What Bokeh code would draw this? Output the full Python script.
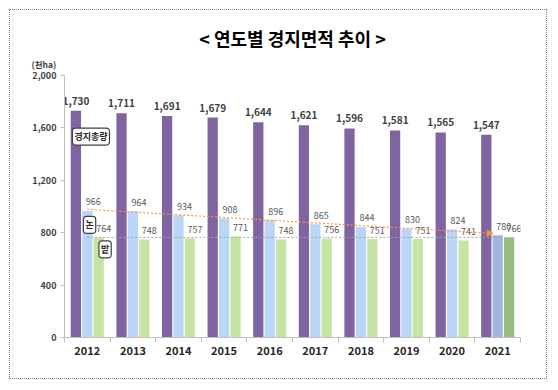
from bokeh.plotting import figure
from bokeh.models import (FactorRange, Range1d, LinearAxis, CategoricalAxis, FixedTicker,
                          NumeralTickFormatter, ColumnDataSource, Label, Arrow, NormalHead,
                          Title, CustomLabelingPolicy)
from bokeh.transform import dodge
from bokeh.core.properties import value
from bokeh.embed import file_html
from bokeh.resources import INLINE

# ---- data ----
years = ["2012", "2013", "2014", "2015", "2016", "2017", "2018", "2019", "2020", "2021"]
total = [1730, 1711, 1691, 1679, 1644, 1621, 1596, 1581, 1565, 1547]   # 경지총량
paddy = [966, 964, 934, 908, 896, 865, 844, 830, 824, 780]              # 논
field = [764, 748, 757, 771, 748, 756, 751, 751, 741, 766]              # 밭
y_ticks = [0, 400, 800, 1200, 1600, 2000]

FONT = "Noto Sans CJK KR"
purple = "#8064A2"
blue_c = ["#B9D6F6"] * 9 + ["#9FB5DA"]
green_c = ["#C6E4A3"] * 9 + ["#9CBC7F"]

src = ColumnDataSource(dict(
    year=years, total=total, paddy=paddy, field=field,
    total_lbl=[f"{v:,}" for v in total],
    paddy_lbl=[str(v) for v in paddy],
    field_lbl=[str(v) for v in field],
    bcol=blue_c, gcol=green_c,
))

p = figure(width=556, height=388, x_range=FactorRange(*years), y_range=Range1d(0, 2000),
           output_backend="svg", toolbar_location=None, x_axis_location=None,
           min_border_left=64, min_border_right=36, min_border_top=75, min_border_bottom=51,
           outline_line_color=None, background_fill_color="white", border_fill_color=None)
p.grid.visible = False
p.styles = {"outline": "1px dotted #808080", "outline-offset": "-10px", "background": "white"}

# title & unit
p.title.text = "< 연도별 경지면적 추이 >"
p.title.align = "center"
p.title.offset = -8
p.title.text_font = FONT
p.title.text_font_size = "18px"
p.title.text_font_style = "bold"
p.title.text_color = "#000000"
p.title.standoff = 0
p.add_layout(Title(text="(천ha)", align="left", offset=-33, standoff=11, text_font=FONT,
                   text_font_size="8.5px", text_font_style="bold", text_color="#404040"), "above")

# y axis
ya = p.yaxis[0]
ya.ticker = FixedTicker(ticks=y_ticks)
ya.formatter = NumeralTickFormatter(format="0,0")
ya.major_tick_out = 4
ya.major_tick_in = 0
ya.minor_tick_line_color = None
ya.axis_line_color = "#BFBFBF"
ya.major_tick_line_color = "#BFBFBF"
ya.major_label_text_font = FONT
ya.major_label_text_font_size = "9px"
ya.major_label_text_font_style = "bold"
ya.major_label_text_color = "#404040"
ya.major_label_standoff = 4

# x axis: boundary ticks + category labels
num_axis = LinearAxis(ticker=FixedTicker(ticks=list(range(len(years) + 1))),
                      major_tick_out=5, major_tick_in=0, minor_tick_line_color=None,
                      axis_line_color="#BFBFBF", major_tick_line_color="#BFBFBF",
                      major_label_policy=CustomLabelingPolicy(code="return new Set()"),
                      major_label_text_font_size="1px", major_label_standoff=0)
cat_axis = CategoricalAxis(major_tick_line_color=None, axis_line_color=None,
                           major_label_standoff=-7, major_label_text_font=FONT,
                           major_label_text_font_size="11px", major_label_text_font_style="bold",
                           major_label_text_color="#262626")
p.add_layout(num_axis, "below")
p.add_layout(cat_axis, "below")

# bars
p.vbar(x=dodge("year", -0.25, range=p.x_range), top="total", width=0.225, source=src,
       fill_color=purple, line_color=None)
p.vbar(x=dodge("year", 0.0, range=p.x_range), top="paddy", width=0.225, source=src,
       fill_color="bcol", line_color=None)
p.vbar(x=dodge("year", 0.25, range=p.x_range), top="field", width=0.225, source=src,
       fill_color="gcol", line_color=None)

# trend lines
p.segment(x0=[0.5], y0=[field[0]], x1=[len(years) - 0.6], y1=[field[0]],
          line_color="#A6A6A6", line_dash="2 2", line_width=1)
p.add_layout(Arrow(x_start=0.5, y_start=paddy[0] + 12, x_end=len(years) - 0.6, y_end=paddy[-1] + 14,
                   line_color="#F79646", line_dash="2 2", line_width=1.2,
                   end=NormalHead(size=6, fill_color="#F79646", line_color="#F79646")))

# value labels
p.text(x=dodge("year", -0.25, range=p.x_range), y="total", text="total_lbl", source=src,
       text_align="center", text_baseline="middle", y_offset=-10,
       text_font=value(FONT), text_font_size="10px", text_font_style="bold", text_color="#404040")
p.text(x=dodge("year", 0.0, range=p.x_range), y="paddy", text="paddy_lbl", source=src,
       text_align="center", text_baseline="middle", x_offset=6, y_offset=-9,
       text_font=value(FONT), text_font_size="9px", text_color="#595959")
p.text(x=dodge("year", 0.25, range=p.x_range), y="field", text="field_lbl", source=src,
       text_align="center", text_baseline="middle", x_offset=5, y_offset=-9,
       text_font=value(FONT), text_font_size="9px", text_color="#595959")

# tags
for tx, xx, yy in [("경지총량", 0.58, 1534), ("논", 0.55, 859), ("밭", 0.89, 672)]:
    p.add_layout(Label(x=xx, y=yy, text=tx, text_align="center", text_baseline="middle",
                       text_font=FONT, text_font_size="9px", text_font_style="bold",
                       text_color="#262626", border_line_color="#404040", border_line_width=1.2,
                       background_fill_color="white", padding=2, border_radius=3))

open("out.html", "w").write(file_html(p, INLINE))
